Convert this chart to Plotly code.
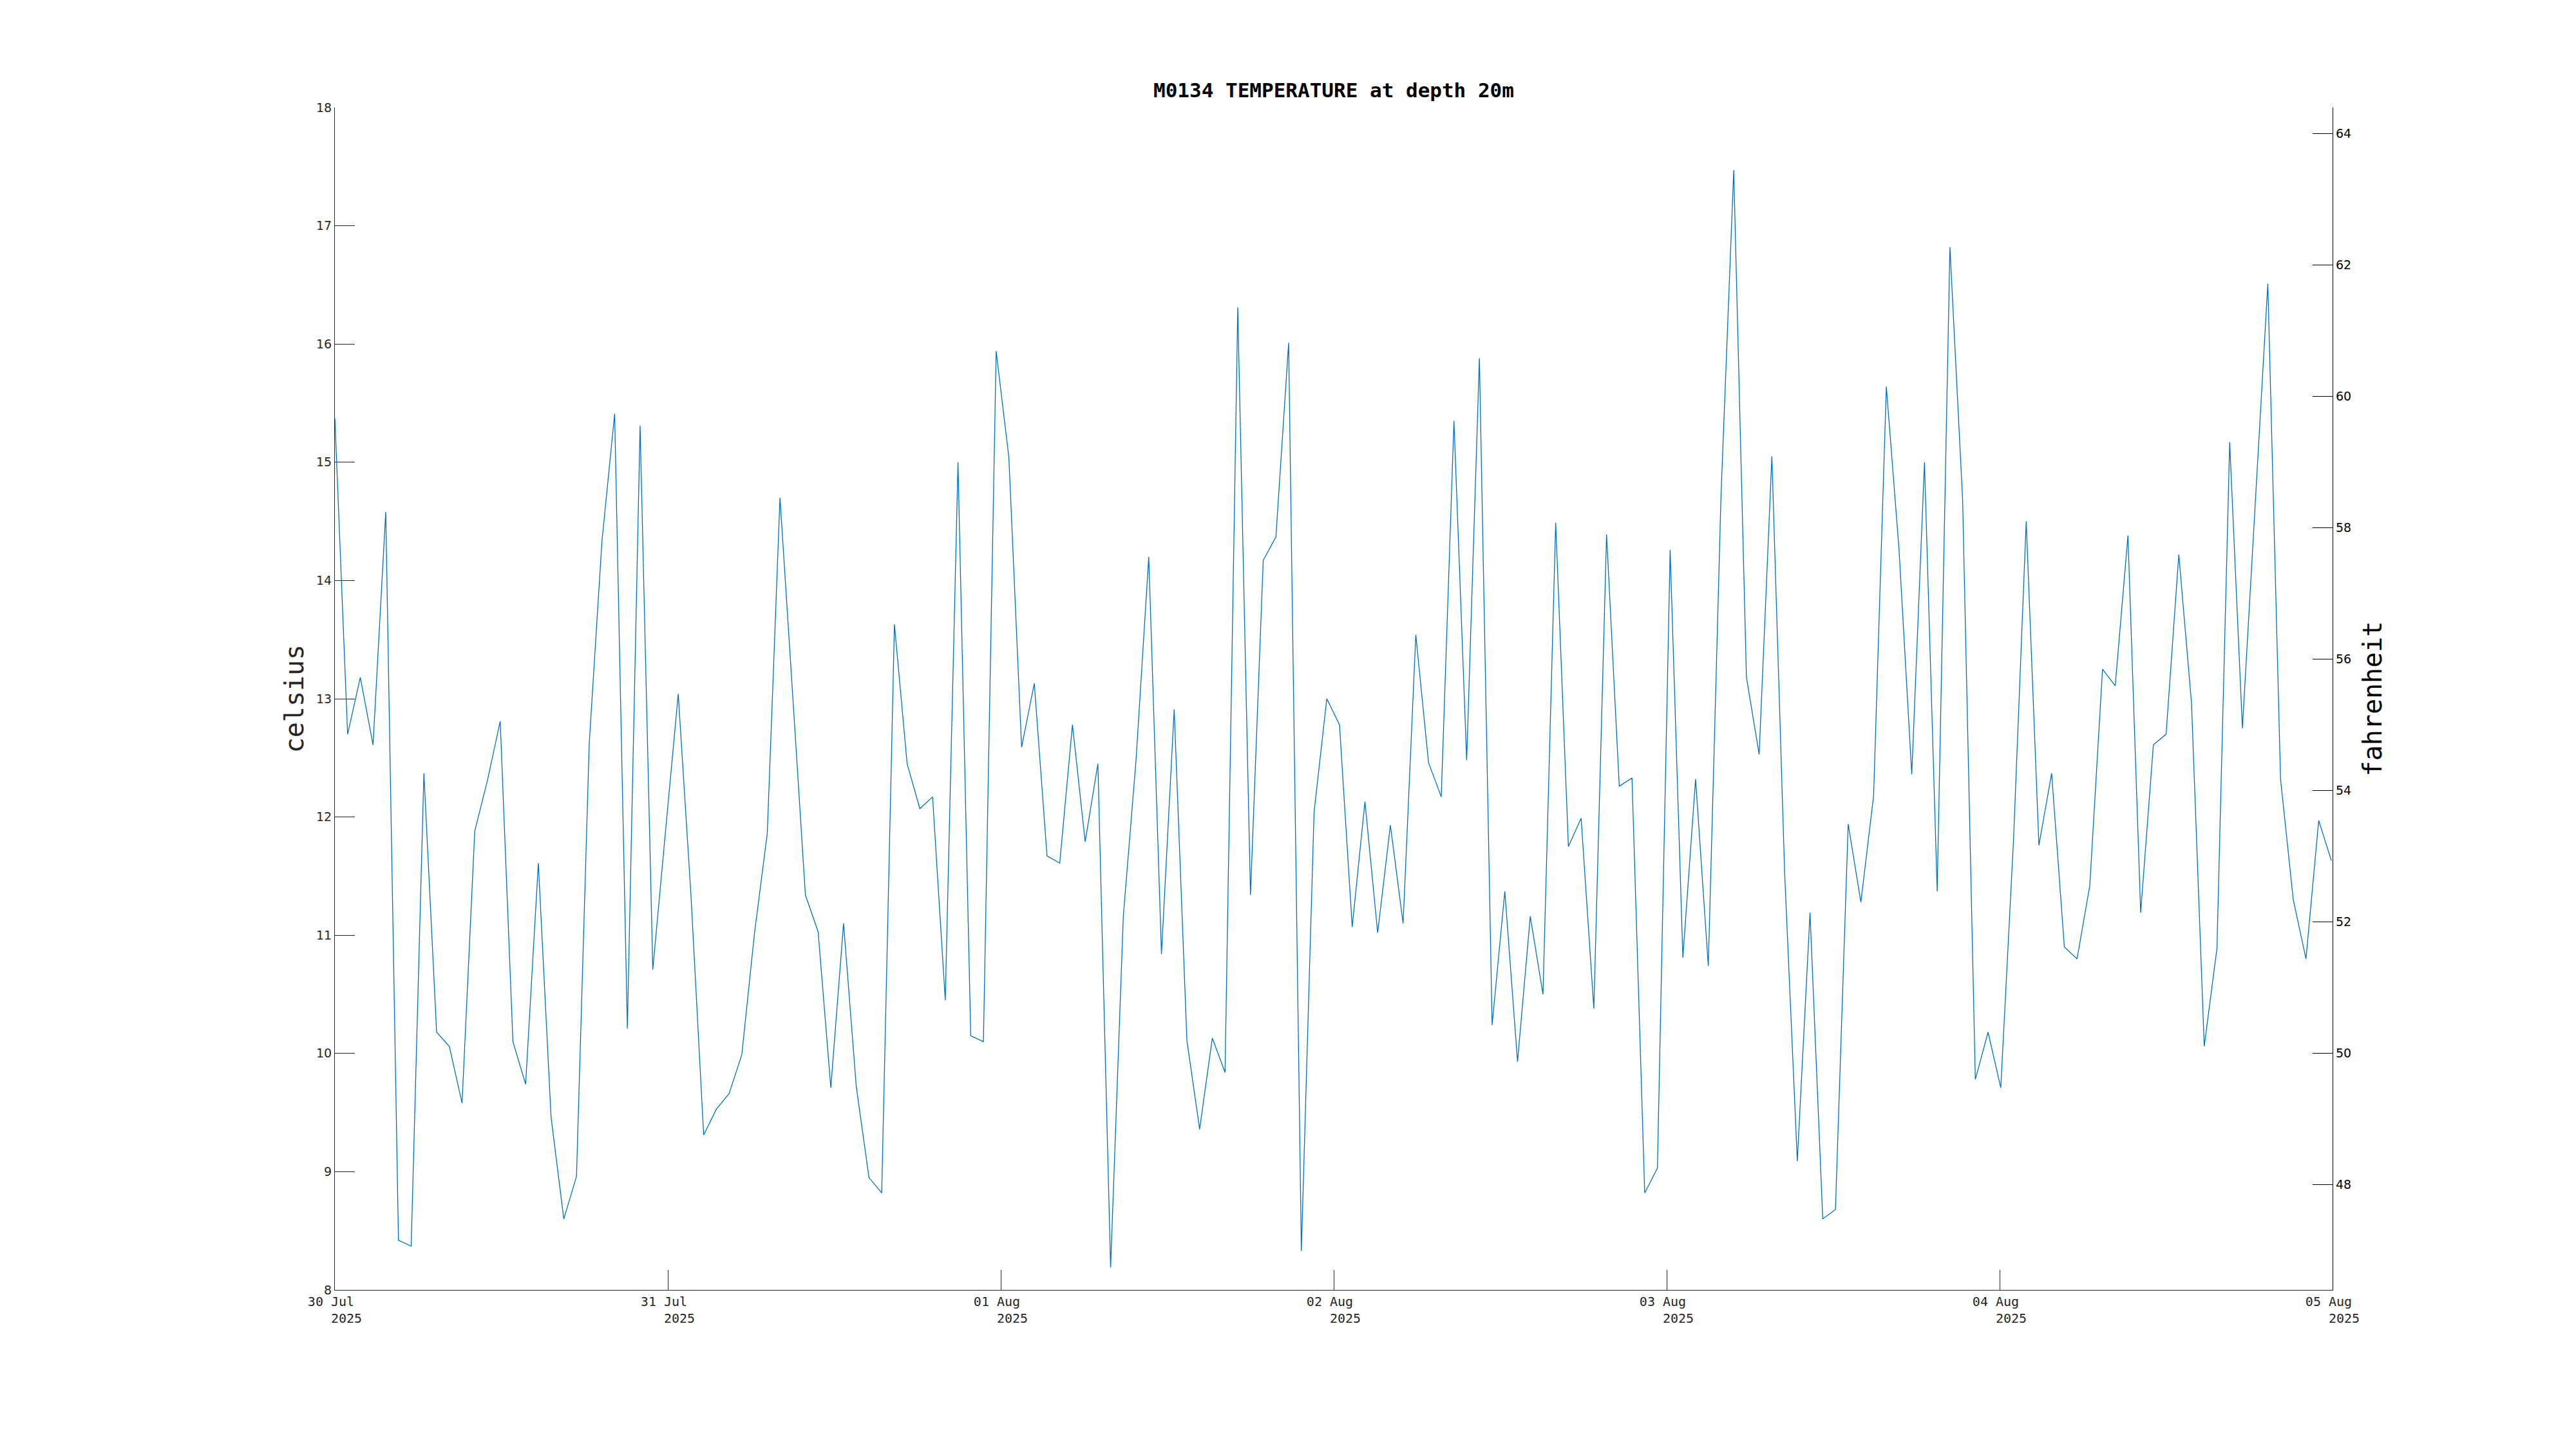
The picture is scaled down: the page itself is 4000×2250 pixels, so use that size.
import pandas as pd
import plotly.graph_objects as go

# ---- data ----
start_time = "2025-07-30 00:00"
sample_interval = "55min"
temperature_c = [
    15.37, 12.70, 13.18, 12.61, 14.58, 8.42, 8.37, 12.37, 10.18, 10.06,
    9.58, 11.88, 12.31, 12.81, 10.10, 9.74, 11.61, 9.46, 8.60, 8.96,
    12.62, 14.33, 15.41, 10.21, 15.31, 10.71, 11.88, 13.04, 11.34, 9.31,
    9.53, 9.66, 9.99, 11.02, 11.86, 14.70, 13.03, 11.34, 11.03, 9.71,
    11.10, 9.72, 8.95, 8.82, 13.63, 12.45, 12.07, 12.17, 10.45, 15.00,
    10.15, 10.10, 15.94, 15.04, 12.59, 13.13, 11.67, 11.61, 12.78, 11.79,
    12.45, 8.19, 11.16, 12.48, 14.20, 10.84, 12.91, 10.11, 9.36, 10.13,
    9.84, 16.31, 11.34, 14.17, 14.37, 16.01, 8.33, 12.04, 13.00, 12.78,
    11.07, 12.13, 11.02, 11.93, 11.10, 13.54, 12.46, 12.17, 15.35, 12.48,
    15.88, 10.24, 11.37, 9.93, 11.16, 10.50, 14.49, 11.75, 11.99, 10.38,
    14.39, 12.26, 12.33, 8.82, 9.03, 14.26, 10.81, 12.32, 10.74, 14.72,
    17.47, 13.18, 12.53, 15.05, 11.54, 9.09, 11.19, 8.60, 8.68, 11.94,
    11.28, 12.18, 15.64, 14.26, 12.36, 15.00, 11.37, 16.82, 14.68, 9.78,
    10.18, 9.71, 11.80, 14.50, 11.76, 12.37, 10.90, 10.80, 11.42, 13.25,
    13.11, 14.38, 11.19, 12.61, 12.70, 14.22, 12.96, 10.06, 10.89, 15.17,
    12.75, 14.60, 16.51, 12.32, 11.30, 10.80, 11.97, 11.63,
]
day_ticks = ["2025-07-30", "2025-07-31", "2025-08-01", "2025-08-02",
             "2025-08-03", "2025-08-04", "2025-08-05"]
day_labels = ["30 Jul", "31 Jul", "01 Aug", "02 Aug", "03 Aug", "04 Aug", "05 Aug"]
year_label = "2025"
celsius_ticks = [8, 9, 10, 11, 12, 13, 14, 15, 16, 17, 18]
fahrenheit_ticks = [48, 50, 52, 54, 56, 58, 60, 62, 64]
celsius_range = [8, 18]

times = pd.date_range(start_time, periods=len(temperature_c), freq=sample_interval)
fahrenheit_range = [c * 9 / 5 + 32 for c in celsius_range]

NBSP = "\u00a0"
tick_text = [f"{d}{NBSP}<br>{NBSP*3}{year_label}" for d in day_labels]

AX = "#262626"
W, H = 4000, 2250
L, R, T, B = 519.6, 3621.8, 166.7, 2003.5

fig = go.Figure()
fig.add_trace(go.Scatter(
    x=times, y=temperature_c, mode="lines",
    line=dict(color="#0072BD", width=1.3),
    showlegend=False, hoverinfo="x+y",
))
# empty trace so that the fahrenheit axis is drawn
fig.add_trace(go.Scatter(x=[], y=[], yaxis="y2", mode="lines",
                         showlegend=False, hoverinfo="skip"))

fig.update_layout(
    width=W, height=H,
    paper_bgcolor="white", plot_bgcolor="white",
    margin=dict(l=L, r=W - R, t=T, b=H - B, pad=0),
    title=dict(
        text="M0134 TEMPERATURE at depth 20m",
        font=dict(family="DejaVu Sans Mono", size=31, color="black", weight="bold"),
        x=0.5, xref="paper", xanchor="center",
        y=1 - 140 / H, yref="container", yanchor="middle",
    ),
    xaxis=dict(
        type="date",
        range=[day_ticks[0], day_ticks[-1]],
        tickmode="array", tickvals=day_ticks, ticktext=tick_text,
        ticks="inside", ticklen=31, tickwidth=1, tickcolor=AX,
        showline=True, linecolor=AX, linewidth=1.2, mirror=False,
        showgrid=False, zeroline=False,
        tickfont=dict(family="DejaVu Sans Mono", size=20, color=AX),
    ),
    yaxis=dict(
        range=celsius_range,
        tickmode="array", tickvals=celsius_ticks,
        ticks="inside", ticklen=31, tickwidth=1, tickcolor=AX,
        showline=True, linecolor=AX, linewidth=1.2, mirror=False,
        showgrid=False, zeroline=False,
        tickfont=dict(family="DejaVu Sans", size=19, color=AX),
        title=dict(text="celsius", standoff=6,
                   font=dict(family="DejaVu Sans Mono", size=40, color=AX)),
    ),
    yaxis2=dict(
        overlaying="y", side="right", anchor="x",
        range=fahrenheit_range, autorange=False,
        tickmode="array", tickvals=fahrenheit_ticks,
        ticks="inside", ticklen=31, tickwidth=1, tickcolor="black",
        showline=True, linecolor="black", linewidth=1.2,
        showgrid=False, zeroline=False,
        tickfont=dict(family="DejaVu Sans", size=19, color="black"),
        title=dict(text="fahrenheit", standoff=19,
                   font=dict(family="DejaVu Sans Mono", size=40, color="black")),
    ),
)

fig.write_html("out.html", config={"displayModeBar": False},
               post_script="document.body.style.margin='0';document.body.style.padding='0';")
